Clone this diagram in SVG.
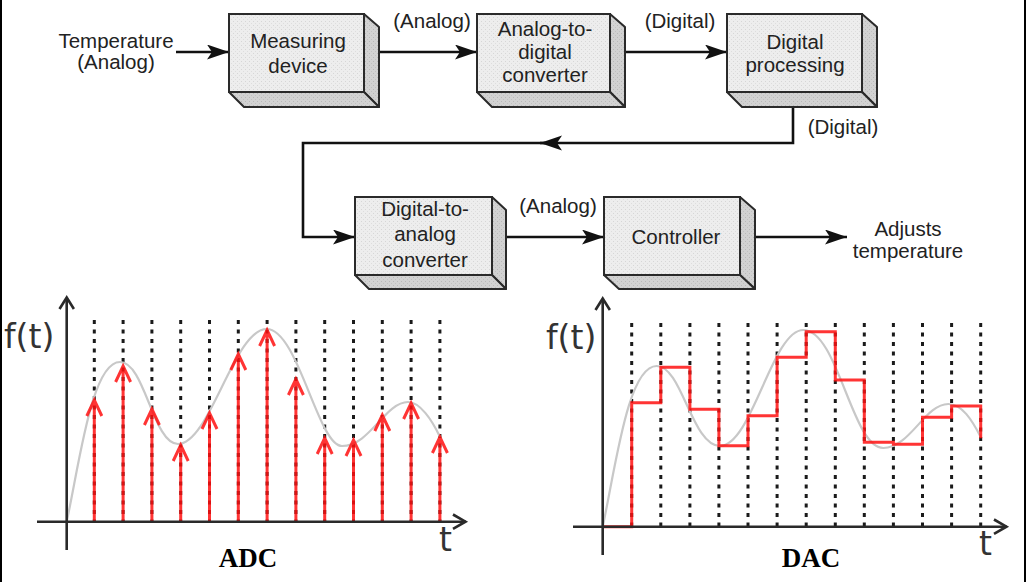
<svg xmlns="http://www.w3.org/2000/svg" width="1026" height="582" viewBox="0 0 1026 582">
<style>
.front{fill:url(#texF);stroke:#2a2a2a;stroke-width:2}
.side{fill:url(#texS);stroke:#2a2a2a;stroke-width:2;stroke-linejoin:round}
.bt{font-family:"Liberation Sans",Arial,sans-serif;font-size:20.5px;fill:#222;text-anchor:middle}
.conn{fill:none;stroke:#111;stroke-width:2.6;marker-end:url(#ah)}
.axis{fill:none;stroke:#2a2a2a;stroke-width:2.6}
.dots{stroke:#1a1a1a;stroke-width:3;stroke-dasharray:4 5.5}
.curve{fill:none;stroke:#c8c8c8;stroke-width:2.2}
.red{fill:none;stroke:#ff1010;stroke-width:3;stroke-opacity:0.85}
.ft{font-family:"DejaVu Sans",sans-serif;font-size:33px;fill:#333}
.cap{font-family:"Liberation Serif","Times New Roman",serif;font-size:27px;font-weight:bold;fill:#000;text-anchor:middle}
</style>
<defs>
<pattern id="texF" width="4" height="4" patternUnits="userSpaceOnUse">
<rect width="4" height="4" fill="#ededed"/>
<rect x="1" y="1" width="1" height="1" fill="#d6d6d6"/>
<rect x="3" y="3" width="1" height="1" fill="#dddddd"/>
</pattern>
<pattern id="texS" width="4" height="4" patternUnits="userSpaceOnUse">
<rect width="4" height="4" fill="#d2d2d2"/>
<rect x="1" y="1" width="1" height="1" fill="#b8b8b8"/>
<rect x="3" y="3" width="1" height="1" fill="#c0c0c0"/>
</pattern>
<marker id="ah" markerWidth="24" markerHeight="16" refX="22" refY="7.5" orient="auto" markerUnits="userSpaceOnUse">
<path d="M0,0 L22,7.5 L0,15 L5,7.5 Z" fill="#111"/>
</marker>
</defs>
<rect width="1026" height="582" fill="#fff"/>
<rect x="0" y="0" width="2" height="582" fill="#000"/>
<rect x="1024" y="0" width="2" height="582" fill="#000"/>

<g id="connectors">
<path class="conn" d="M176,52 H229"/>
<path class="conn" d="M364,52 H477"/>
<path class="conn" d="M610,52 H727"/>
<path class="conn" d="M793,92 V143 H540"/>
<path class="conn" d="M545,143 H303 V237 H355"/>
<path class="conn" d="M492,237 H604"/>
<path class="conn" d="M740,237 H847"/>
</g>

<g id="box-measuring">
<polygon class="side" points="364,14 379,27 379,107 364,92"/>
<polygon class="side" points="229,92 364,92 379,107 244,107"/>
<rect class="front" x="229" y="14" width="135" height="78"/>
<text class="bt" x="298" y="48">Measuring</text>
<text class="bt" x="298" y="73">device</text>
</g>
<g id="box-adc">
<polygon class="side" points="610,14 625,27 625,107 610,92"/>
<polygon class="side" points="477,92 610,92 625,107 492,107"/>
<rect class="front" x="477" y="14" width="133" height="78"/>
<text class="bt" x="545" y="36">Analog-to-</text>
<text class="bt" x="545" y="59">digital</text>
<text class="bt" x="545" y="82">converter</text>
</g>
<g id="box-processing">
<polygon class="side" points="862,14 877,27 877,107 862,92"/>
<polygon class="side" points="727,92 862,92 877,107 742,107"/>
<rect class="front" x="727" y="14" width="135" height="78"/>
<text class="bt" x="795" y="49">Digital</text>
<text class="bt" x="795" y="72">processing</text>
</g>
<g id="box-dac">
<polygon class="side" points="492,197 506,210 506,289 492,275"/>
<polygon class="side" points="355,275 492,275 506,289 369,289"/>
<rect class="front" x="355" y="197" width="137" height="78"/>
<text class="bt" x="425" y="216">Digital-to-</text>
<text class="bt" x="425" y="241">analog</text>
<text class="bt" x="425" y="267">converter</text>
</g>
<g id="box-controller">
<polygon class="side" points="740,197 755,210 755,289 740,275"/>
<polygon class="side" points="604,275 740,275 755,289 619,289"/>
<rect class="front" x="604" y="197" width="136" height="78"/>
<text class="bt" x="676" y="244">Controller</text>
</g>

<g id="labels">
<text class="bt" x="116" y="48">Temperature</text>
<text class="bt" x="116" y="69">(Analog)</text>
<text class="bt" x="432" y="28">(Analog)</text>
<text class="bt" x="680" y="28">(Digital)</text>
<text class="bt" x="843" y="134">(Digital)</text>
<text class="bt" x="558" y="213">(Analog)</text>
<text class="bt" x="908" y="236">Adjusts</text>
<text class="bt" x="908" y="258">temperature</text>
</g>

<g id="adc-chart">
<g class="dots">
<line x1="94.3" y1="320" x2="94.3" y2="521"/>
<line x1="123.1" y1="320" x2="123.1" y2="521"/>
<line x1="151.9" y1="320" x2="151.9" y2="521"/>
<line x1="180.7" y1="320" x2="180.7" y2="521"/>
<line x1="209.5" y1="320" x2="209.5" y2="521"/>
<line x1="238.3" y1="320" x2="238.3" y2="521"/>
<line x1="267.1" y1="320" x2="267.1" y2="521"/>
<line x1="295.9" y1="320" x2="295.9" y2="521"/>
<line x1="324.7" y1="320" x2="324.7" y2="521"/>
<line x1="353.5" y1="320" x2="353.5" y2="521"/>
<line x1="382.3" y1="320" x2="382.3" y2="521"/>
<line x1="411.1" y1="320" x2="411.1" y2="521"/>
<line x1="439.9" y1="320" x2="439.9" y2="521"/>
</g>
<path class="curve" d="M66.7,521.7 C80,460 92,362 120,362 C145,362 153,444 178,444 C210,444 234,329 266.7,329 C298,329 318,446 342,446 C370,446 385,402 408,402 C420,402 432,420 440,437"/>
<g class="red">
<path d="M94.3,521 V401 M86.8,416 L94.3,400 L101.8,416"/>
<path d="M123.1,521 V367 M115.6,382 L123.1,366 L130.6,382"/>
<path d="M151.9,521 V410 M144.4,425 L151.9,409 L159.4,425"/>
<path d="M180.7,521 V446 M173.2,461 L180.7,445 L188.2,461"/>
<path d="M209.5,521 V414 M202,429 L209.5,413 L217,429"/>
<path d="M238.3,521 V355 M230.8,370 L238.3,354 L245.8,370"/>
<path d="M267.1,521 V331 M259.6,346 L267.1,330 L274.6,346"/>
<path d="M295.9,521 V380 M288.4,395 L295.9,379 L303.4,395"/>
<path d="M324.7,521 V439 M317.2,454 L324.7,438 L332.2,454"/>
<path d="M353.5,521 V441 M346,456 L353.5,440 L361,456"/>
<path d="M382.3,521 V416 M374.8,431 L382.3,415 L389.8,431"/>
<path d="M411.1,521 V404 M403.6,419 L411.1,403 L418.6,419"/>
<path d="M439.9,521 V438 M432.4,453 L439.9,437 L447.4,453"/>
</g>
<path class="axis" d="M66.7,299 V550 M37,521.7 H466"/>
<path class="axis" d="M59.5,309 L66.7,297.5 L73.9,309 M453,514.5 L465.5,521.7 L453,528.9"/>
<text class="ft" x="4" y="348">f(t)</text>
<text class="ft" x="439" y="551">t</text>
<text class="cap" x="248" y="567">ADC</text>
</g>

<g id="dac-chart">
<g class="dots">
<line x1="631.7" y1="323" x2="631.7" y2="526"/>
<line x1="660.8" y1="323" x2="660.8" y2="526"/>
<line x1="689.9" y1="323" x2="689.9" y2="526"/>
<line x1="718.9" y1="323" x2="718.9" y2="526"/>
<line x1="748" y1="323" x2="748" y2="526"/>
<line x1="777.1" y1="323" x2="777.1" y2="526"/>
<line x1="806.2" y1="323" x2="806.2" y2="526"/>
<line x1="835.3" y1="323" x2="835.3" y2="526"/>
<line x1="864.3" y1="323" x2="864.3" y2="526"/>
<line x1="893.4" y1="323" x2="893.4" y2="526"/>
<line x1="922.5" y1="323" x2="922.5" y2="526"/>
<line x1="951.6" y1="323" x2="951.6" y2="526"/>
<line x1="980.7" y1="323" x2="980.7" y2="526"/>
</g>
<path class="curve" d="M602.7,526.7 C616,465 628,366 656.7,366 C682,366 692,446 720,446 C752,446 772,330 803.3,330 C838,330 852,448 883.3,448 C910,448 925,404 948.3,404 C962,404 972,420 980.7,437"/>
<path class="red" d="M602.7,526.7 H631.7 V402.7 H660.8 V367.3 H689.9 V409.3 H718.9 V445.7 H748 V415.7 H777.1 V357.3 H806.2 V331.7 H835.3 V380 H864.3 V442.3 H893.4 V444.3 H922.5 V417.3 H951.6 V406 H980.7 V438.3"/>
<path class="axis" d="M602.7,300 V555 M573,526.7 H1007"/>
<path class="axis" d="M595.5,310 L602.7,298.5 L609.9,310 M994,519.5 L1006.5,526.7 L994,533.9"/>
<text class="ft" x="546" y="349">f(t)</text>
<text class="ft" x="979" y="555">t</text>
<text class="cap" x="811" y="567">DAC</text>
</g>
</svg>
